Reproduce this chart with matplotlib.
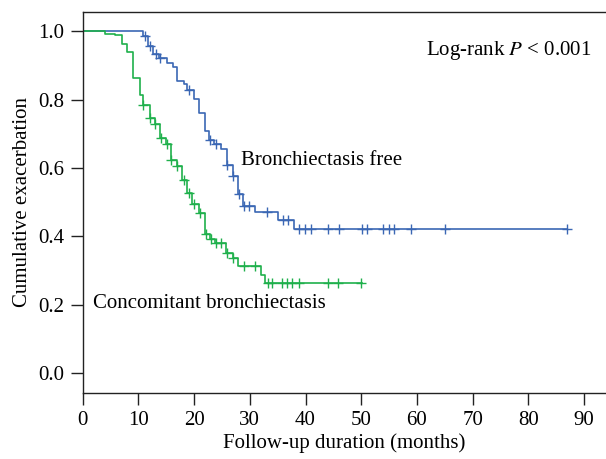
import numpy as np
import matplotlib
matplotlib.use("Agg")
import matplotlib.pyplot as plt

plt.rcParams['font.family'] = ['Liberation Serif', 'DejaVu Serif']
plt.rcParams['mathtext.fontset'] = 'stix'

# Bronchiectasis free (blue)
free_times = [0, 10.9, 11.8, 12.7, 13.7, 15.1, 16.2, 17.0, 18.1, 18.8, 20.0, 20.9,
              22.0, 22.6, 23.6, 24.9, 25.9, 26.9, 27.9, 28.7, 30.9, 35.0, 38.0]
free_surv = [1.0, 0.986, 0.956, 0.932, 0.920, 0.907, 0.896, 0.854, 0.844, 0.828, 0.803, 0.761,
             0.707, 0.682, 0.669, 0.654, 0.608, 0.576, 0.523, 0.489, 0.472, 0.448, 0.421]
free_end = 87.0
free_censor = [11.2, 12.0, 13.2, 13.9, 19.0, 22.8, 23.9, 25.9, 27.0, 28.0, 29.0, 29.9,
               33.0, 36.0, 36.9, 38.9, 39.9, 40.9, 44.0, 46.0, 50.1, 51.0, 54.0, 55.0,
               55.9, 58.9, 65.0, 87.0]

# Concomitant bronchiectasis (green)
conc_times = [0, 4.0, 5.8, 7.0, 7.9, 9.0, 10.2, 10.8, 12.0, 12.9, 13.9, 15.0, 15.8,
              16.9, 17.8, 18.8, 19.7, 20.9, 22.0, 22.9, 23.75, 25.8, 26.9, 27.9, 32.0, 32.7]
conc_surv = [1.0, 0.993, 0.988, 0.962, 0.940, 0.862, 0.813, 0.784, 0.745, 0.728, 0.689, 0.670, 0.624,
             0.605, 0.565, 0.526, 0.494, 0.469, 0.406, 0.391, 0.380, 0.351, 0.336, 0.312, 0.288, 0.264]
conc_end = 50.1
conc_censor = [10.9, 12.1, 13.0, 14.0, 15.1, 15.9, 17.0, 18.1, 19.0, 19.9, 21.0, 22.1,
               23.0, 24.0, 24.9, 25.9, 27.0, 29.0, 30.9, 33.3, 33.9, 35.8, 36.6, 37.5,
               38.9, 44.0, 45.9, 50.0]

blue = '#3b67b4'
green = '#1fb04c'


def km_curve(ax, times, surv, end, censor, color):
    t = np.array(times + [end])
    s = np.array(surv + [surv[-1]])
    ax.step(t, s, where='post', color=color, lw=1.2)
    c = np.array(censor)
    idx = np.searchsorted(np.array(times), c, side='right') - 1
    ax.plot(c, np.array(surv)[idx], ls='none', marker='+', ms=6.5, mew=1.0, color=color)


fig = plt.figure(figsize=(6.06, 4.59), dpi=100)
ax = fig.add_axes([0.1365, 0.1445, 0.8635, 0.8294])

km_curve(ax, free_times, free_surv, free_end, free_censor, blue)
km_curve(ax, conc_times, conc_surv, conc_end, conc_censor, green)

ax.set_xlim(0, 93.95)
ax.set_ylim(-0.057, 1.056)
ax.set_xticks(np.arange(0, 91, 10))
ax.set_yticks(np.arange(0, 1.01, 0.2))
ax.set_yticklabels(['0.0', '0.2', '0.4', '0.6', '0.8', '1.0'])
ax.spines['right'].set_visible(False)
for sp in ax.spines.values():
    sp.set_linewidth(1.0)
    sp.set_color('#222222')
ax.tick_params(length=8.5, width=1.0, labelsize=15, color='#222222', pad=5)

ax.set_xlabel('Follow-up duration (months)', fontsize=15, labelpad=2)
ax.set_ylabel('Cumulative exacerbation', fontsize=15, labelpad=4)

ax.text(61.6, 0.944, 'Log-rank $P$ < 0.001', fontsize=15, ha='left', va='center')
ax.text(28.5, 0.623, 'Bronchiectasis free', fontsize=15, ha='left', va='center')
ax.text(1.8, 0.205, 'Concomitant bronchiectasis', fontsize=15, ha='left', va='center')

fig.savefig('out.png', dpi=100)
